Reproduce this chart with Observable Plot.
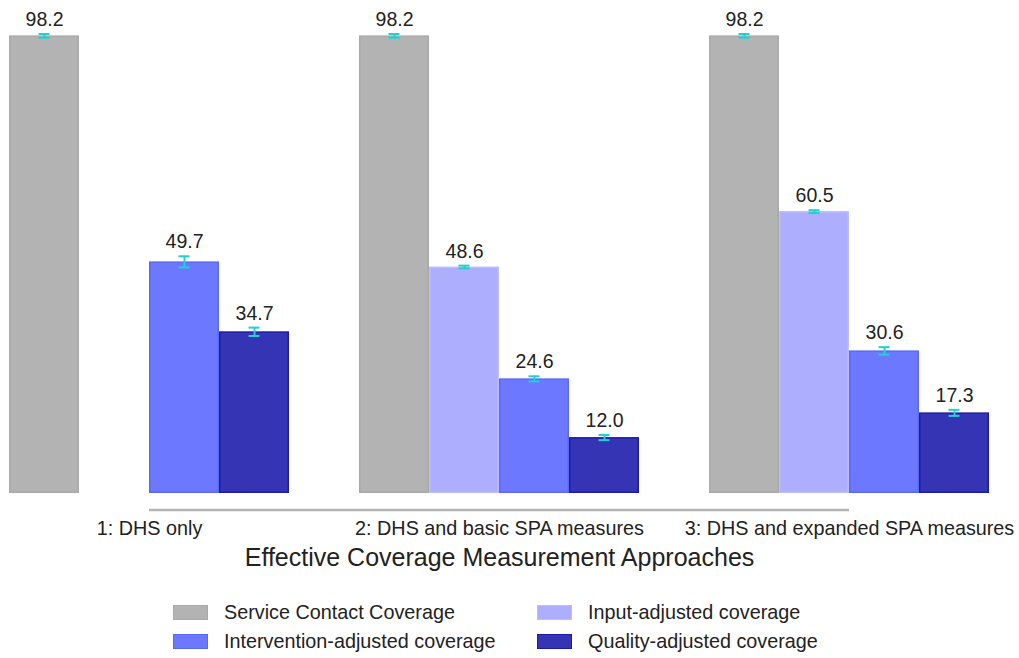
<!DOCTYPE html>
<html><head><meta charset="utf-8">
<script src="https://cdn.jsdelivr.net/npm/d3@7"></script>
<script src="https://cdn.jsdelivr.net/npm/@observablehq/plot@0.6"></script>
<style>
body{margin:0;background:#fff;font-family:"Liberation Sans",Arial,sans-serif;}
#legend{position:relative;width:1019px;height:83px;}
.item{position:absolute;display:flex;align-items:center;font-size:19.8px;line-height:23px;color:#222;white-space:nowrap}
.sw{width:35px;height:15px;margin-right:16px;box-sizing:border-box;border:1.5px solid}
</style></head><body><div id="chart"></div><div id="legend"></div>
<script>
const approaches = ["1: DHS only", "2: DHS and basic SPA measures", "3: DHS and expanded SPA measures"];
const seriesNames = ["Service Contact Coverage", "Input-adjusted coverage", "Intervention-adjusted coverage", "Quality-adjusted coverage"];
const fills = ["#b3b3b3", "#aeaeff", "#6b78ff", "#3434b4"];
const strokes = ["#a9a9a9", "#bcbcff", "#5a68f6", "#1c1caa"];
const serviceContact = [98.2, 98.2, 98.2];
const inputAdjusted = [null, 48.6, 60.5];
const interventionAdjusted = [49.7, 24.6, 30.6];
const qualityAdjusted = [34.7, 12.0, 17.3];
const serviceContactErr = [0.4, 0.4, 0.4];
const inputAdjustedErr = [null, 0.3, 0.3];
const interventionAdjustedErr = [1.2, 0.55, 0.8];
const qualityAdjustedErr = [0.9, 0.55, 0.65];
const axisTitle = "Effective Coverage Measurement Approaches";

const values = [serviceContact, inputAdjusted, interventionAdjusted, qualityAdjusted];
const errs = [serviceContactErr, inputAdjustedErr, interventionAdjustedErr, qualityAdjustedErr];
const data = [];
approaches.forEach((a, i) => values.forEach((arr, j) => {
  if (arr[i] != null) data.push({approach: a, series: seriesNames[j], value: arr[i], lo: arr[i] - errs[j][i], hi: arr[i] + errs[j][i]});
}));

const errColor = "#22d0d0";
const plot = Plot.plot({
  width: 1019, height: 575,
  marginLeft: 8, marginRight: 30, marginTop: 27, marginBottom: 82,
  style: {fontFamily: "'Liberation Sans', Arial, sans-serif", fontSize: "16px", color: "#222", background: "#fff"},
  fx: {domain: approaches, paddingInner: 0.2, paddingOuter: 0, axis: null},
  x: {domain: seriesNames, padding: 0, axis: null},
  y: {domain: [0, 100], axis: null},
  marks: [
    ...seriesNames.map((s, j) => Plot.barY(data.filter(d => d.series === s), {
      fx: "approach", x: "series", y: "value", fill: fills[j], stroke: strokes[j], strokeWidth: 1.5, inset: 0.75
    })),
    Plot.ruleX(data, {fx: "approach", x: "series", y1: "lo", y2: "hi", stroke: errColor, strokeWidth: 2}),
    Plot.tickY(data, {fx: "approach", x: "series", y: "lo", stroke: errColor, strokeWidth: 2, inset: 29.5}),
    Plot.tickY(data, {fx: "approach", x: "series", y: "hi", stroke: errColor, strokeWidth: 2, inset: 29.5}),
    Plot.text(data, {fx: "approach", x: "series", y: "hi", text: d => d.value.toFixed(1), lineAnchor: "bottom", dy: -8, fontSize: 19.5, fill: "#222"}),
    Plot.axisFx({anchor: "bottom", tickSize: 0, tickPadding: 27, label: null, fontSize: 19.8, fill: "#222"}),
    Plot.axisFx({anchor: "bottom", tickSize: 0, tickFormat: () => "", label: axisTitle, labelAnchor: "center", labelOffset: 72, fontSize: 25, fill: "#222"})
  ]
});

// continuous axis line from first to last category centre, using the fx scale
const fxs = plot.scale("fx");
const ys = plot.scale("y");
const bw = fxs.bandwidth;
const xa = fxs.apply(approaches[0]) + bw / 2;
const xb = fxs.apply(approaches[approaches.length - 1]) + bw / 2;
d3.select(plot).append("line")
  .attr("x1", xa).attr("x2", xb)
  .attr("y1", ys.apply(0) + 17).attr("y2", ys.apply(0) + 17)
  .attr("stroke", "#b4b4b4").attr("stroke-width", 2.5);

document.getElementById("chart").appendChild(plot);

// legend (two columns)
const legend = document.getElementById("legend");
const cols = [173, 537], rows = [37, 66];
seriesNames.forEach((s, j) => {
  const it = document.createElement("div");
  it.className = "item";
  it.style.left = cols[j % 2] + "px";
  it.style.top = (rows[Math.floor(j / 2)] - 11.5) + "px";
  const sw = document.createElement("span");
  sw.className = "sw";
  sw.style.background = fills[j];
  sw.style.borderColor = strokes[j];
  it.appendChild(sw);
  it.appendChild(document.createTextNode(s));
  legend.appendChild(it);
});
</script></body></html>
